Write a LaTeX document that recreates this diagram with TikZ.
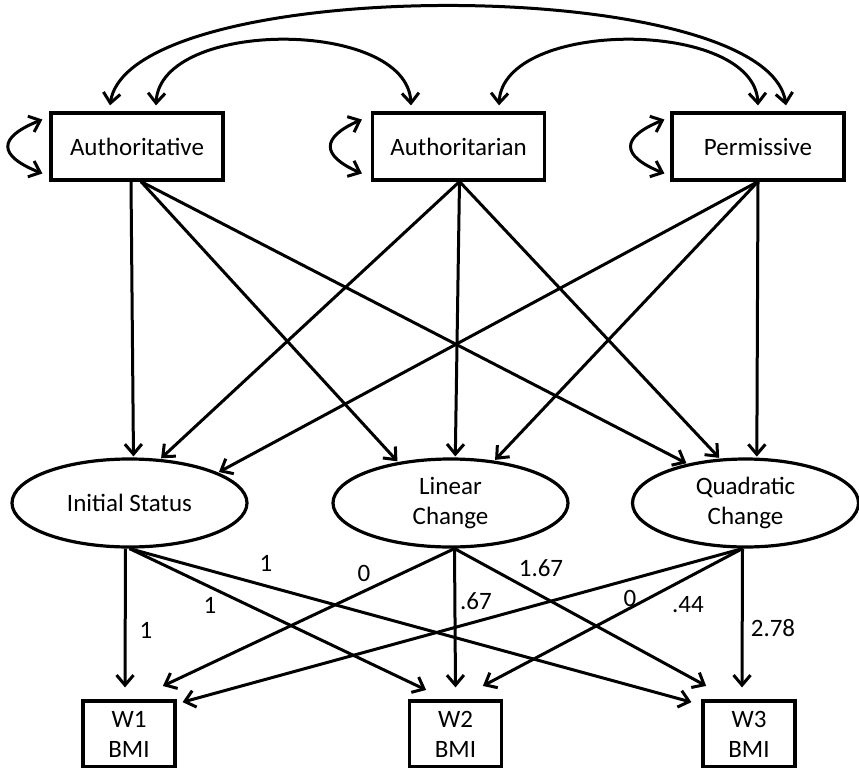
\documentclass[tikz,border=0pt]{standalone}
\usepackage{fontspec}
\setmainfont{Carlito}
\usetikzlibrary{arrows.meta, shapes.geometric}

\tikzset{
  var/.style={draw, line width=3.2pt, minimum width=172pt, minimum height=67pt, inner sep=0pt},
  obs/.style={draw, line width=3.2pt, minimum width=92pt, minimum height=66pt, inner sep=0pt, align=center},
  latent/.style={draw, ellipse, line width=3.2pt, minimum width=235pt, minimum height=88pt, inner sep=0pt, align=center},
  barb/.tip={Straight Barb[length=10pt, width=17pt]},
  regr/.style={-barb, line width=3pt, shorten >=1pt},
  cov/.style={barb-barb, line width=3pt},
  coef/.style={inner sep=0pt}
}

\begin{document}
\begin{tikzpicture}[x=1pt, y=-1pt, font=\fontsize{25}{30}\selectfont]
\useasboundingbox (0,0) rectangle (859,768);

% parenting styles
\node[var] (aut) at (137,146.5) {Authoritative};
\node[var] (atn) at (458.5,146.5) {Authoritarian};
\node[var] (per) at (758,146.5) {Permissive};

% growth factors
\node[latent] (is) at (129.5,503) {Initial Status};
\node[latent] (lc) at (450.5,503) {Linear\\Change};
\node[latent, minimum width=226pt] (qc) at (745.5,503) {Quadratic\\Change};

% BMI waves
\node[obs] (w1) at (129,734) {W1\\BMI};
\node[obs] (w2) at (455.5,734) {W2\\BMI};
\node[obs] (w3) at (749,734) {W3\\BMI};

% covariances
\draw[cov] ([shift={(-27,-6)}]aut.north) .. controls +(20,-132) and +(-20,-132) .. ([shift={(28,-6)}]per.north);
\draw[cov] ([shift={(19,-6)}]aut.north) .. controls +(4,-87) and +(-4,-87) .. ([shift={(-47.5,-6)}]atn.north);
\draw[cov] ([shift={(40.5,-6)}]atn.north) .. controls +(4,-87) and +(-4,-87) .. ([shift={(0,-6)}]per.north);

% variances
\draw[cov] ([shift={(-7,-27)}]aut.west) .. controls +(-45,18) and +(-45,-18) .. ([shift={(-7,27)}]aut.west);
\draw[cov] ([shift={(-9,-27)}]atn.west) .. controls +(-41,18) and +(-41,-18) .. ([shift={(-9,27)}]atn.west);
\draw[cov] ([shift={(-6,-27)}]per.west) .. controls +(-44,18) and +(-44,-18) .. ([shift={(-6,27)}]per.west);

% styles -> growth factors
\draw[regr] ([xshift=-6]aut.south) -- (is.85);
\draw[regr] ([xshift=4]aut.south) -- (lc.142);
\draw[regr] ([xshift=4]aut.south) -- (qc.146);
\draw[regr] ([xshift=1]atn.south) -- (is.55);
\draw[regr] ([xshift=1]atn.south) -- (lc.84);
\draw[regr] ([xshift=1]atn.south) -- (qc.120);
\draw[regr] (per.south) -- (is.19);
\draw[regr] (per.south) -- (lc.44);
\draw[regr] (per.south) -- (qc.76);

% growth factors -> BMI
\draw[regr] ([xshift=-4]is.south) -- ([shift={(-4,-11)}]w1.north);
\draw[regr] (is.south) -- ([shift={(-28.5,-9)}]w2.north);
\draw[regr] (is.south) -- ([shift={(-9,3)}]w3.north west);
\draw[regr] ([xshift=4]lc.south) -- ([shift={(33,-13)}]w1.north);
\draw[regr] ([xshift=4]lc.south) -- ([shift={(0,-11)}]w2.north);
\draw[regr] ([xshift=4]lc.south) -- ([shift={(-42,-13)}]w3.north);
\draw[regr] ([xshift=-3]qc.south) -- ([shift={(5,3)}]w1.north east);
\draw[regr] ([xshift=-3]qc.south) -- ([shift={(26.5,-13)}]w2.north);
\draw[regr] ([xshift=-3]qc.south) -- ([shift={(-7,-11)}]w3.north);

% loadings
\node[coef] (l11) at (146,630) {1};
\node[coef] (l12) at (210,605) {1};
\node[coef] (l13) at (266,563) {1};
\node[coef] (l21) at (364,573) {0};
\node[coef] (l22) at (476,601) {.67};
\node[coef] (l23) at (541,568) {1.67};
\node[coef] (l31) at (630,598) {0};
\node[coef] (l32) at (688,605) {.44};
\node[coef] (l33) at (773,628) {2.78};
\end{tikzpicture}
\end{document}
